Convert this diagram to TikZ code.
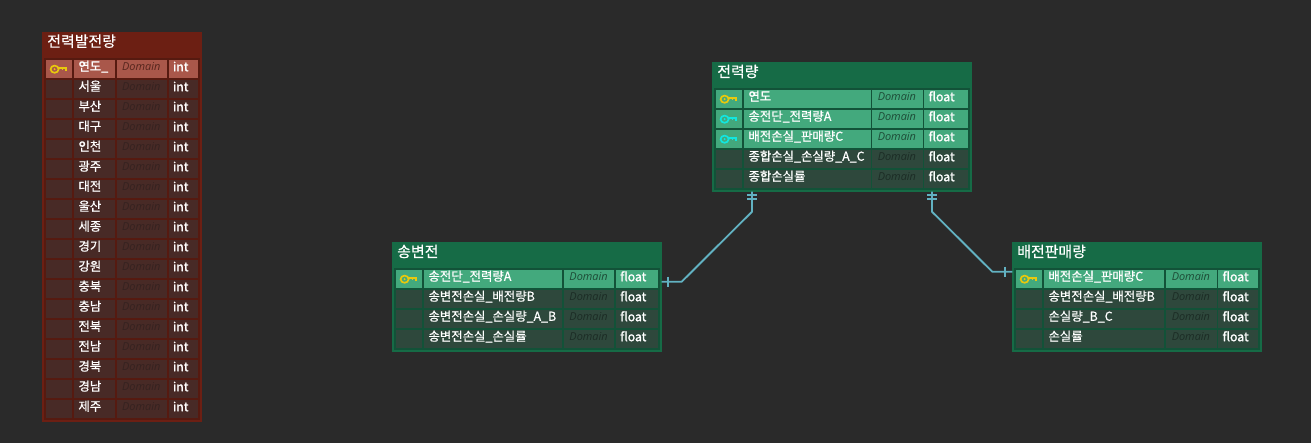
\documentclass[tikz,border=0pt]{standalone}
\usepackage{fontspec}
\setmainfont{Noto Sans CJK KR}
\newfontfamily\domfont{Open Sans}
\newfontfamily\titlefont[FakeBold=0.4]{Noto Sans CJK KR}
\newfontfamily\cellfont[FakeBold=0.8]{Noto Sans CJK KR}
\newfontfamily\typefont[FakeBold=1.4]{Noto Sans CJK KR}
\definecolor{bg}{HTML}{2A2A2A}
\definecolor{Router}{HTML}{6C1F13}
\definecolor{Rpanel}{HTML}{561A10}
\definecolor{Rcell}{HTML}{482A26}
\definecolor{Rsel}{HTML}{A9574A}
\definecolor{Rdom}{HTML}{352220}
\definecolor{Rdomsel}{HTML}{55251D}
\definecolor{Gouter}{HTML}{166B46}
\definecolor{Gpanel}{HTML}{125238}
\definecolor{Gcell}{HTML}{2E483C}
\definecolor{Gsel}{HTML}{43A97D}
\definecolor{Gdom}{HTML}{1C2C25}
\definecolor{Gdomsel}{HTML}{1D4B36}
\definecolor{keyY}{HTML}{E9C90C}
\definecolor{keyC}{HTML}{12E6E0}
\definecolor{link}{HTML}{62B2C2}
\tikzset{
  boxbase/.style={rectangle,draw=none,inner sep=0pt,outer sep=0pt},
  titletext/.style={anchor=base west,inner sep=0pt,text=white,font=\titlefont\fontsize{11.2pt}{12pt}\selectfont},
  nametext/.style={anchor=base west,inner sep=0pt,text=white,font=\cellfont\fontsize{9.3pt}{11pt}\selectfont},
  typetext/.style={anchor=base west,inner sep=0pt,text=white,font=\typefont\fontsize{9.2pt}{11pt}\selectfont},
  domtext/.style={anchor=base west,inner sep=0pt,font=\domfont\itshape\fontsize{8.2pt}{10pt}\selectfont},
  keyline/.style={line width=1.25pt,line cap=butt,line join=miter},
  relation/.style={draw=link,line width=1.4pt,line join=round},
  relbar/.style={draw=link,line width=1.4pt}
}
% name, x0, y0, x1, y1, fill
\newcommand{\ebox}[6]{%
  \pgfmathsetmacro{\ew}{((#4)-(#2))*0.75}%
  \pgfmathsetmacro{\eh}{((#5)-(#3))*0.75}%
  \node[boxbase,fill=#6,minimum width=\ew pt,minimum height=\eh pt] (#1) at ({((#2)+(#4))/2},{((#3)+(#5))/2}) {};%
}
% id, theme, left, top, right, bottom, title
\newcommand{\etable}[7]{%
  \ebox{#1}{#3}{#4}{#5}{#6}{#2outer}%
  \ebox{#1-panel}{#3+2}{#4+26}{#5-2}{#6-2}{#2panel}%
  \node[titletext] (#1-title) at ({#3+4.7},{#4+14.8}) {#7};%
}
% key drawing: cell left, row top, colour
\newcommand{\ekey}[3]{%
  \draw[keyline,draw=#3] ({#1+8.6},{#2+9.2}) ellipse [x radius=4,y radius=3.6];%
  \fill[#3] ({#1+8.6},{#2+9.2}) circle [radius=1.1];%
  \draw[keyline,draw=#3] ({#1+12.4},{#2+7.7}) -- ({#1+20},{#2+7.7}) -- ({#1+20},{#2+10.8});%
  \draw[keyline,draw=#3] ({#1+16.6},{#2+7.7}) -- ({#1+16.6},{#2+10.2});%
}
% columns
\newcommand{\ecols}[8]{\def\ca{#1}\def\cb{#2}\def\cc{#3}\def\cd{#4}\def\ce{#5}\def\cf{#6}\def\cg{#7}\def\ch{#8}}
% id, row top, theme, sel/cell, domain suffix, label, type
\newcommand{\erow}[7]{%
  \ebox{#1-#2-icon}{\ca}{#2}{\cb}{#2+18}{#3#4}%
  \ebox{#1-#2-name}{\cc}{#2}{\cd}{#2+18}{#3#4}%
  \ebox{#1-#2-dom}{\ce}{#2}{\cf}{#2+18}{#3#4}%
  \ebox{#1-#2-type}{\cg}{#2}{\ch}{#2+18}{#3#4}%
  \node[nametext] (#1-#2-nt) at ({\cc+4.2},{#2+10.8}) {#6};%
  \node[domtext,text=#3#5] (#1-#2-dt) at ({\ce+5.2},{#2+10}) {Domain};%
  \node[typetext] (#1-#2-tt) at ({\cg+4},{#2+11.2}) {#7};%
}
\begin{document}
\begin{tikzpicture}[x=0.75pt,y=-0.75pt]
\fill[bg] (0,0) rectangle (1311,443);
\useasboundingbox (0,0) rectangle (1311,443);

% ---- table 1
\etable{tGen}{R}{42.3}{32}{201.7}{422}{전력발전량}
\ecols{46}{72}{74}{115}{116.7}{167}{168.7}{198.3}
\erow{tGen}{60}{R}{sel}{domsel}{연도\_}{int}
\ekey{46}{60}{keyY}
\erow{tGen}{80}{R}{cell}{dom}{서울}{int}
\erow{tGen}{100}{R}{cell}{dom}{부산}{int}
\erow{tGen}{120}{R}{cell}{dom}{대구}{int}
\erow{tGen}{140}{R}{cell}{dom}{인천}{int}
\erow{tGen}{160}{R}{cell}{dom}{광주}{int}
\erow{tGen}{180}{R}{cell}{dom}{대전}{int}
\erow{tGen}{200}{R}{cell}{dom}{울산}{int}
\erow{tGen}{220}{R}{cell}{dom}{세종}{int}
\erow{tGen}{240}{R}{cell}{dom}{경기}{int}
\erow{tGen}{260}{R}{cell}{dom}{강원}{int}
\erow{tGen}{280}{R}{cell}{dom}{충북}{int}
\erow{tGen}{300}{R}{cell}{dom}{충남}{int}
\erow{tGen}{320}{R}{cell}{dom}{전북}{int}
\erow{tGen}{340}{R}{cell}{dom}{전남}{int}
\erow{tGen}{360}{R}{cell}{dom}{경북}{int}
\erow{tGen}{380}{R}{cell}{dom}{경남}{int}
\erow{tGen}{400}{R}{cell}{dom}{제주}{int}

% ---- table 2
\etable{tPower}{G}{712.3}{62.3}{971.7}{191.7}{전력량}
\ecols{716}{742}{744}{870.7}{872.3}{922.7}{924.3}{968.3}
\erow{tPower}{90}{G}{sel}{domsel}{연도}{float}
\ekey{716}{90}{keyY}
\erow{tPower}{110}{G}{sel}{domsel}{송전단\_전력량A}{float}
\ekey{716}{110}{keyC}
\erow{tPower}{130}{G}{sel}{domsel}{배전손실\_판매량C}{float}
\ekey{716}{130}{keyC}
\erow{tPower}{150}{G}{cell}{dom}{종합손실\_손실량\_A\_C}{float}
\erow{tPower}{170}{G}{cell}{dom}{종합손실률}{float}

% ---- table 3
\etable{tTrans}{G}{392.3}{242.3}{661.7}{351.7}{송변전}
\ecols{396}{422}{424}{562.3}{564}{614.3}{616}{658.3}
\erow{tTrans}{270}{G}{sel}{domsel}{송전단\_전력량A}{float}
\ekey{396}{270}{keyY}
\erow{tTrans}{290}{G}{cell}{dom}{송변전손실\_배전량B}{float}
\erow{tTrans}{310}{G}{cell}{dom}{송변전손실\_손실량\_A\_B}{float}
\erow{tTrans}{330}{G}{cell}{dom}{송변전손실\_손실률}{float}

% ---- table 4
\etable{tSale}{G}{1012.3}{242.3}{1261.7}{351.7}{배전판매량}
\ecols{1016}{1042}{1044}{1164.3}{1166.3}{1216.7}{1218.3}{1258.3}
\erow{tSale}{270}{G}{sel}{domsel}{배전손실\_판매량C}{float}
\ekey{1016}{270}{keyY}
\erow{tSale}{290}{G}{cell}{dom}{송변전손실\_배전량B}{float}
\erow{tSale}{310}{G}{cell}{dom}{손실량\_B\_C}{float}
\erow{tSale}{330}{G}{cell}{dom}{손실률}{float}

% ---- connectors
\draw[relation] ([shift={(-90,0)}]tPower.south) -- ++(0,20) -- ([shift={(20,-15.3)}]tTrans.east) -- ([shift={(0,-15.3)}]tTrans.east);
\draw[relation] ([shift={(90,0)}]tPower.south) -- ++(0,20) -- ([shift={(-20,-25.3)}]tSale.west) -- ([shift={(0,-25.3)}]tSale.west);
\draw[relbar] ([shift={(-95,3.4)}]tPower.south) -- ([shift={(-85,3.4)}]tPower.south);
\draw[relbar] ([shift={(-95,7.6)}]tPower.south) -- ([shift={(-85,7.6)}]tPower.south);
\draw[relbar] ([shift={(85,3.4)}]tPower.south) -- ([shift={(95,3.4)}]tPower.south);
\draw[relbar] ([shift={(85,7.6)}]tPower.south) -- ([shift={(95,7.6)}]tPower.south);
\draw[relbar] ([shift={(6.5,-20.3)}]tTrans.east) -- ([shift={(6.5,-10.3)}]tTrans.east);
\draw[relbar] ([shift={(-7,-30.3)}]tSale.west) -- ([shift={(-7,-20.3)}]tSale.west);
\end{tikzpicture}
\end{document}
